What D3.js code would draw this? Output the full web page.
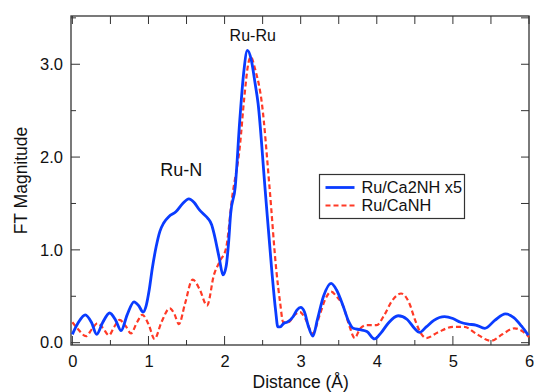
<!DOCTYPE html>
<html>
<head>
<meta charset="utf-8">
<script src="https://cdn.jsdelivr.net/npm/d3@7"></script>
<style>
  body { margin: 0; background: #fff; }
  svg { display: block; font-family: "Liberation Sans", Arial, sans-serif; }
</style>
</head>
<body>
<div id="chart"></div>
<script>
// Ru/Ca2NH x5 (solid blue)
const distA = [0.00, 0.08, 0.17, 0.25, 0.32, 0.40, 0.49, 0.57, 0.64, 0.72, 0.81, 0.87, 0.93, 0.97, 1.01, 1.05, 1.10, 1.15, 1.20, 1.27, 1.36, 1.45, 1.53, 1.60, 1.67, 1.73, 1.78, 1.83, 1.86, 1.90, 1.93, 1.98, 2.02, 2.05, 2.08, 2.14, 2.20, 2.25, 2.30, 2.35, 2.40, 2.44, 2.53, 2.62, 2.67, 2.70, 2.73, 2.78, 2.82, 2.90, 2.95, 3.00, 3.05, 3.10, 3.16, 3.22, 3.30, 3.40, 3.47, 3.56, 3.63, 3.69, 3.78, 3.87, 3.97, 4.05, 4.15, 4.28, 4.40, 4.50, 4.56, 4.65, 4.75, 4.89, 5.00, 5.10, 5.20, 5.30, 5.42, 5.55, 5.69, 5.80, 5.90, 5.99];
const magA = [0.09, 0.22, 0.30, 0.22, 0.09, 0.22, 0.32, 0.24, 0.13, 0.30, 0.44, 0.40, 0.33, 0.40, 0.57, 0.80, 1.03, 1.20, 1.29, 1.36, 1.41, 1.50, 1.55, 1.51, 1.43, 1.38, 1.34, 1.27, 1.18, 1.03, 0.91, 0.73, 0.82, 1.05, 1.39, 1.68, 2.40, 2.90, 3.15, 3.05, 2.80, 2.58, 1.68, 0.78, 0.35, 0.17, 0.17, 0.21, 0.22, 0.28, 0.35, 0.38, 0.33, 0.18, 0.07, 0.25, 0.50, 0.64, 0.57, 0.39, 0.23, 0.155, 0.14, 0.12, 0.04, 0.10, 0.21, 0.29, 0.25, 0.15, 0.11, 0.17, 0.24, 0.28, 0.26, 0.22, 0.20, 0.19, 0.155, 0.24, 0.31, 0.27, 0.18, 0.08];

// Ru/CaNH (dashed red)
const distB = [0.00, 0.07, 0.18, 0.26, 0.33, 0.40, 0.48, 0.55, 0.62, 0.70, 0.77, 0.85, 0.92, 1.00, 1.08, 1.17, 1.28, 1.34, 1.40, 1.48, 1.58, 1.67, 1.77, 1.86, 1.94, 2.02, 2.10, 2.20, 2.26, 2.31, 2.345, 2.40, 2.49, 2.59, 2.68, 2.73, 2.77, 2.84, 2.92, 2.99, 3.06, 3.16, 3.25, 3.33, 3.40, 3.47, 3.56, 3.64, 3.71, 3.78, 3.87, 4.00, 4.10, 4.20, 4.32, 4.43, 4.50, 4.58, 4.65, 4.80, 5.00, 5.15, 5.30, 5.50, 5.65, 5.81, 5.92, 6.00];
const magB = [0.22, 0.15, 0.07, 0.15, 0.21, 0.16, 0.08, 0.17, 0.245, 0.18, 0.10, 0.22, 0.30, 0.20, 0.04, 0.22, 0.37, 0.31, 0.20, 0.42, 0.68, 0.58, 0.40, 0.73, 0.88, 1.02, 1.57, 2.11, 2.65, 3.00, 3.08, 2.95, 2.58, 1.68, 0.78, 0.43, 0.22, 0.22, 0.30, 0.33, 0.26, 0.10, 0.30, 0.48, 0.55, 0.50, 0.39, 0.18, 0.05, 0.15, 0.19, 0.19, 0.30, 0.45, 0.53, 0.42, 0.25, 0.10, 0.05, 0.11, 0.17, 0.17, 0.10, 0.02, 0.09, 0.155, 0.12, 0.06];

const xTicks = [0, 1, 2, 3, 4, 5, 6];
const yTicks = [0, 1, 2, 3];
const seriesNames = ['Ru/Ca2NH x5', 'Ru/CaNH'];
const peakLabels = [{ text: 'Ru-N', d: 1.43, v: 1.80, size: 18 }, { text: 'Ru-Ru', d: 2.37, v: 3.25, size: 16 }];

const W = 534, H = 392;
const margin = { top: 16, right: 5, bottom: 47, left: 71 };
const width = W - margin.left - margin.right;
const height = H - margin.top - margin.bottom;

const blue = '#0a3cff';
const red = '#ff3a26';
const axisColor = '#333';

const svg = d3.select('#chart').append('svg')
  .attr('width', W)
  .attr('height', H);

const g = svg.append('g')
  .attr('transform', `translate(${margin.left},${margin.top})`);

const x = d3.scaleLinear().domain([-0.018, 6.0]).range([0, width]);
const y = d3.scaleLinear().domain([-0.025, 3.52]).range([height, 0]);

const halfX = d3.range(0, 6.01, 0.5);
const halfY = d3.range(0, 3.51, 0.5);

// bottom axis
g.append('g')
  .attr('transform', `translate(0,${height})`)
  .call(d3.axisBottom(x).tickValues(xTicks).tickSize(0).tickPadding(10).tickFormat(d3.format('d')))
  .call(a => a.select('.domain').remove())
  .selectAll('text')
  .style('font-size', '16.5px')
  .attr('fill', '#111');

// left axis
g.append('g')
  .call(d3.axisLeft(y).tickValues(yTicks).tickSize(0).tickPadding(8).tickFormat(d3.format('.1f')))
  .call(a => a.select('.domain').remove())
  .selectAll('text')
  .style('font-size', '16.5px')
  .attr('fill', '#111');

// inward ticks
const ticks = g.append('g').attr('stroke', axisColor).attr('stroke-width', 1);
halfX.forEach(d => {
  const len = Number.isInteger(d) ? 9 : 5;
  ticks.append('line').attr('x1', x(d)).attr('x2', x(d)).attr('y1', height).attr('y2', height - len);
  ticks.append('line').attr('x1', x(d)).attr('x2', x(d)).attr('y1', 0).attr('y2', 8);
});
halfY.forEach(v => {
  const len = Number.isInteger(v) ? 9 : 5;
  ticks.append('line').attr('x1', 0).attr('x2', len).attr('y1', y(v)).attr('y2', y(v));
  ticks.append('line').attr('x1', width).attr('x2', width - 8).attr('y1', y(v)).attr('y2', y(v));
});

// frame
g.append('rect')
  .attr('width', width)
  .attr('height', height)
  .attr('fill', 'none')
  .attr('stroke', axisColor)
  .attr('stroke-width', 1.3);

const line = d3.line()
  .x(d => x(d[0]))
  .y(d => y(d[1]))
  .curve(d3.curveMonotoneX);

g.append('path')
  .datum(d3.zip(distB, magB))
  .attr('d', line)
  .attr('fill', 'none')
  .attr('stroke', red)
  .attr('stroke-width', 2.2)
  .attr('stroke-dasharray', '5,3');

g.append('path')
  .datum(d3.zip(distA, magA))
  .attr('d', line)
  .attr('fill', 'none')
  .attr('stroke', blue)
  .attr('stroke-width', 2.8);

// peak labels
g.selectAll('.peak')
  .data(peakLabels)
  .enter().append('text')
  .attr('class', 'peak')
  .attr('x', d => x(d.d))
  .attr('y', d => y(d.v))
  .attr('text-anchor', 'middle')
  .style('font-size', d => d.size + 'px')
  .attr('fill', '#111')
  .text(d => d.text);

// legend
const lg = svg.append('g').attr('transform', 'translate(319.5,174.5)');
lg.append('rect')
  .attr('width', 145)
  .attr('height', 44)
  .attr('fill', '#fff')
  .attr('stroke', axisColor)
  .attr('stroke-width', 1.2);
[blue, red].forEach((c, i) => {
  const yy = 13 + i * 18;
  lg.append('line')
    .attr('x1', 6).attr('x2', 35).attr('y1', yy).attr('y2', yy)
    .attr('stroke', c)
    .attr('stroke-width', i === 0 ? 2.8 : 2.2)
    .attr('stroke-dasharray', i === 0 ? null : '5,3');
  lg.append('text')
    .attr('x', 42).attr('y', yy + 5.5)
    .style('font-size', '16.3px')
    .attr('fill', '#111')
    .text(seriesNames[i]);
});

// axis titles
svg.append('text')
  .attr('x', margin.left + x(3))
  .attr('y', 388)
  .attr('text-anchor', 'middle')
  .style('font-size', '17.5px')
  .attr('fill', '#111')
  .text('Distance (Å)');

svg.append('text')
  .attr('transform', `translate(27,${margin.top + height / 2}) rotate(-90)`)
  .attr('text-anchor', 'middle')
  .style('font-size', '17.5px')
  .attr('fill', '#111')
  .text('FT Magnitude');
</script>
</body>
</html>
